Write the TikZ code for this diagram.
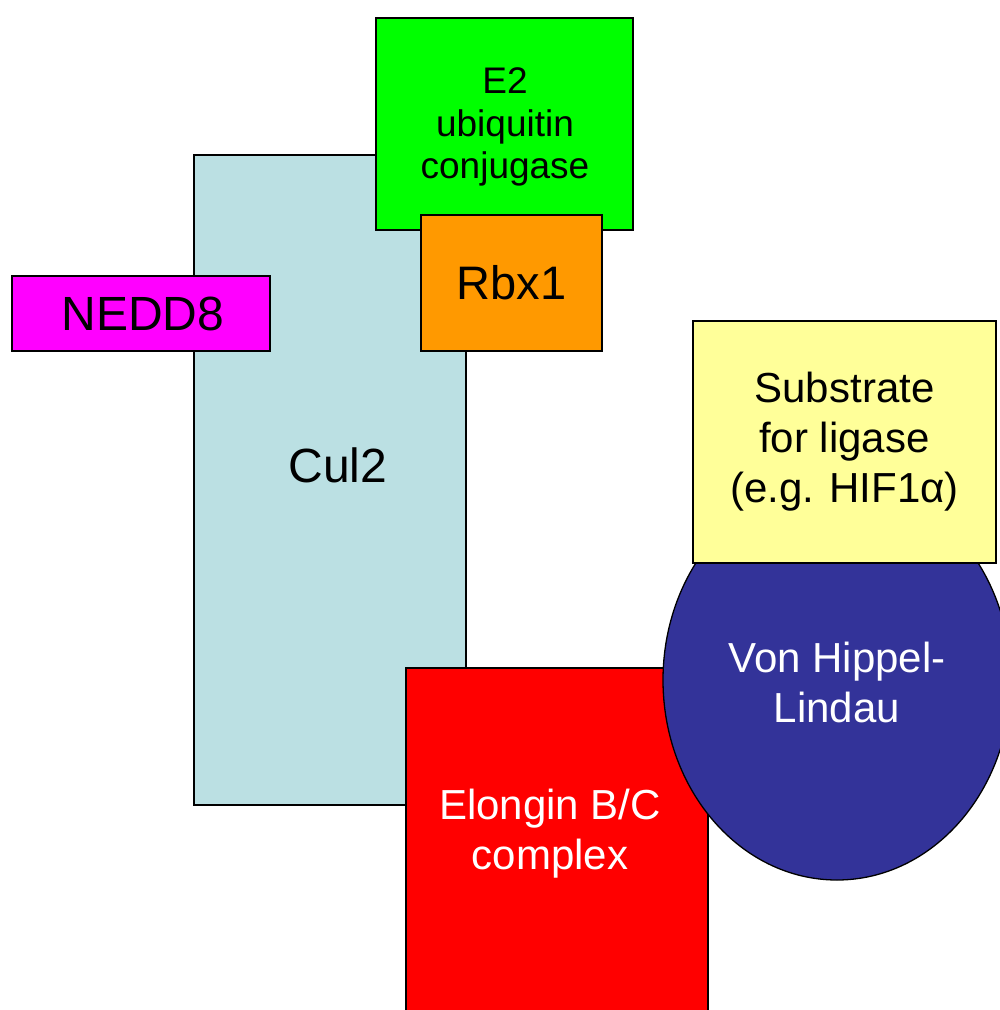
\documentclass[tikz,border=0pt]{standalone}
\usepackage{fontspec}
\setmainfont{Liberation Sans}
\usetikzlibrary{shapes.geometric}
\definecolor{culblue}{HTML}{BBE0E3}
\definecolor{e2green}{HTML}{00FF00}
\definecolor{rbxorange}{HTML}{FF9900}
\definecolor{neddpink}{HTML}{FF00FF}
\definecolor{subyellow}{HTML}{FFFF99}
\definecolor{vhlblue}{HTML}{333399}
\definecolor{elored}{HTML}{FF0000}
\tikzset{
  protein/.style={draw=black, line width=1.3pt, inner sep=0pt, outer sep=0pt},
  bigtext/.style={font=\fontsize{48}{58}\selectfont, align=center},
  midtext/.style={font=\fontsize{42}{50}\selectfont, align=center},
  smalltext/.style={font=\fontsize{37}{42.5}\selectfont, align=center},
}
\begin{document}
\begin{tikzpicture}[x=1pt,y=-1pt]
  \useasboundingbox (0,0) rectangle (1000,1010);
  \clip (0,0) rectangle (1000,1010);
  % Cullin scaffold
  \node[protein, fill=culblue, minimum width=272pt, minimum height=650pt] (cul) at (330,480) {};
  \node[bigtext] (cullabel) at (338,465) {Cul2};
  % E2 enzyme and RING subunit
  \node[protein, fill=e2green, minimum width=257pt, minimum height=212pt] (e2) at (504.5,124) {};
  \node[smalltext] (e2label) at (505,127) {E2\\ubiquitin\\conjugase};
  \node[protein, fill=rbxorange, minimum width=181pt, minimum height=136pt, font=\fontsize{47}{56}\selectfont] (rbx) at (511.5,283) {Rbx1};
  % Neddylation
  \node[protein, fill=neddpink, minimum width=258pt, minimum height=75pt] (nedd) at (141,313.5) {};
  \node[font=\fontsize{48}{58}\selectfont] (neddlabel) at (143,313.5) {NEDD8};
  % Adaptor
  \node[protein, fill=elored, minimum width=302pt, minimum height=400pt, anchor=north west] (elo) at (406,668) {};
  \node[midtext, text=white] (elolabel) at (550,834) {Elongin B/C\\complex};
  % Substrate recognition
  \node[protein, fill=vhlblue, ellipse, minimum width=348pt, minimum height=400pt] (vhl) at (837,680) {};
  \node[midtext, text=white] (vhllabel) at (837,682) {Von Hippel-\\Lindau};
  \node[protein, fill=subyellow, minimum width=303pt, minimum height=242pt, midtext] (sub) at (844.5,442) {Substrate\\for ligase\\(e.g. HIF1α)};
\end{tikzpicture}
\end{document}
